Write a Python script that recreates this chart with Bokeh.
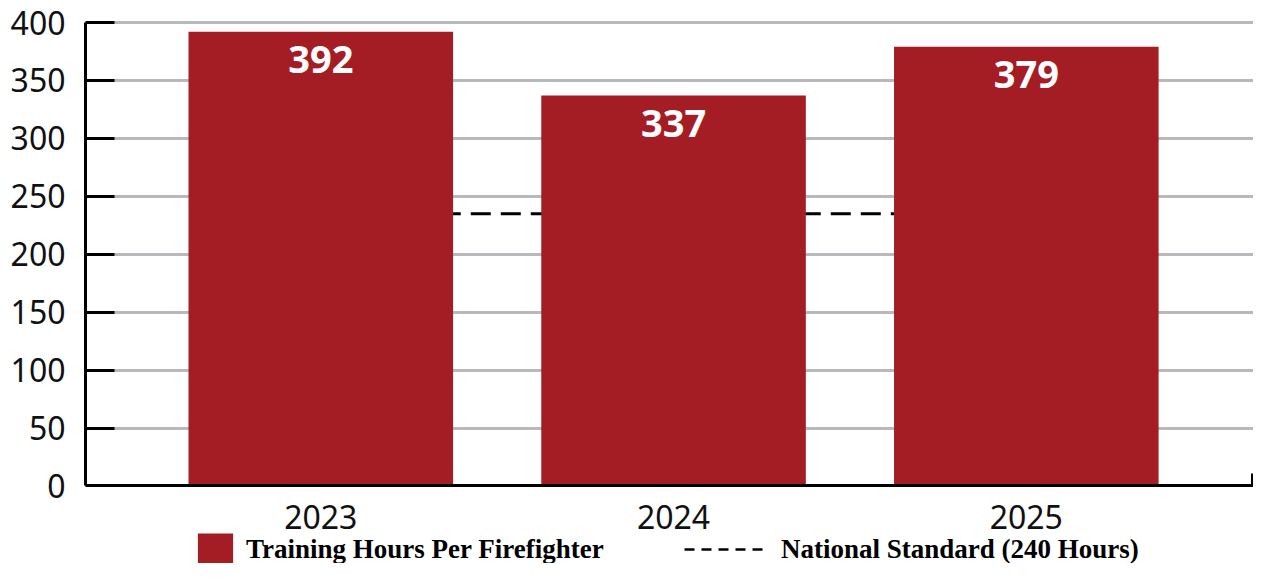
from bokeh.plotting import figure
from bokeh.models import Range1d, FixedTicker, Legend, LegendItem, ColumnDataSource
from bokeh.core.properties import value
from bokeh.embed import file_html
from bokeh.resources import INLINE

# ---- data ----
years = ["2023", "2024", "2025"]
training_hours = [392, 337, 379]
national_standard = [235, 235, 235]   # dashed line as drawn in the picture
y_ticks = [0, 50, 100, 150, 200, 250, 300, 350, 400]
series_label = "Training Hours Per Firefighter"
standard_label = "National Standard (240 Hours)"

x_pos = list(range(len(years)))
src = ColumnDataSource(dict(
    x=x_pos,
    hours=training_hours,
    label=[str(v) for v in training_hours],
    std=national_standard,
))

BAR = "#a51d24"
GRID = "#b7b9bc"

p = figure(width=1253, height=563, output_backend="svg", toolbar_location=None,
           x_range=Range1d(-0.667, 2.644), y_range=Range1d(-66.9, 419.0),
           min_border_left=85, min_border_right=0, min_border_top=0,
           min_border_bottom=0)
p.outline_line_color = None
p.background_fill_color = "white"
p.border_fill_color = "white"

std_r = p.line("x", "std", source=src, line_color="black", line_width=3,
               line_dash="20 10")
bars = p.vbar(x="x", top="hours", bottom=0, width=0.75, source=src,
              fill_color=BAR, line_color=None)
p.text(x="x", y="hours", text="label", source=src, text_color="white",
       text_font=value("Open Sans"), text_font_style="bold",
       text_font_size="38px", text_align="center", text_baseline="middle",
       y_offset=28)

# legend-only line (finer dash than the plotted line, as in the original legend)
legend_line = p.line(x=[float("nan")], y=[float("nan")], line_color="black",
                     line_width=2.5, line_dash="10 7")

# grid
p.xgrid.grid_line_color = None
p.ygrid.ticker = FixedTicker(ticks=y_ticks)
p.ygrid.grid_line_color = GRID
p.ygrid.grid_line_width = 3

# y axis
yax = p.yaxis[0]
yax.ticker = FixedTicker(ticks=y_ticks)
yax.bounds = (y_ticks[0], y_ticks[-1])
yax.axis_line_width = 3
yax.axis_line_color = "black"
yax.major_tick_in = 29
yax.major_tick_out = 0
yax.major_tick_line_width = 3
yax.major_tick_line_color = "black"
yax.minor_tick_line_color = None
yax.major_label_text_font = "Noto Sans"
yax.major_label_text_font_size = "32px"
yax.major_label_text_color = "#111111"
yax.major_label_standoff = 20

# x axis, drawn at y = 0 inside the frame
xax = p.xaxis[0]
xax.fixed_location = 0
xax.ticker = FixedTicker(ticks=x_pos, minor_ticks=[2.64])
xax.major_label_overrides = {i: y for i, y in zip(x_pos, years)}
xax.axis_line_width = 3
xax.axis_line_color = "black"
xax.major_tick_line_color = None
xax.major_tick_in = 0
xax.major_tick_out = 0
xax.minor_tick_in = 12
xax.minor_tick_out = 0
xax.minor_tick_line_width = 3
xax.minor_tick_line_color = "black"
xax.major_label_text_font = "Noto Sans"
xax.major_label_text_font_size = "32px"
xax.major_label_text_color = "#111111"
xax.major_label_standoff = 19

common = dict(label_text_font="Liberation Serif", label_text_font_style="bold",
              label_text_font_size="27px", label_text_color="black",
              border_line_color=None, background_fill_alpha=0,
              padding=0, margin=0, spacing=0, glyph_height=40, label_height=40)

leg1 = Legend(items=[LegendItem(label=series_label, renderers=[bars])],
              location=(108, -6), glyph_width=44, label_standoff=9, **common)
leg2 = Legend(items=[LegendItem(label=standard_label, renderers=[legend_line])],
              location=(599, -6), glyph_width=81, label_standoff=16, **common)
p.add_layout(leg1)
p.add_layout(leg2)

open("out.html", "w").write(file_html(p, INLINE))
